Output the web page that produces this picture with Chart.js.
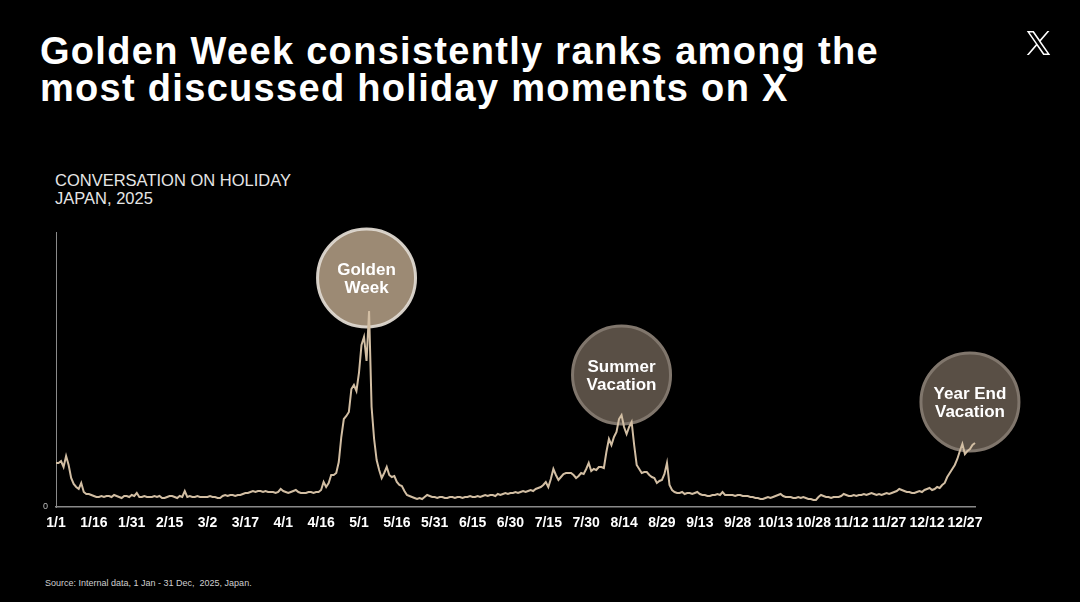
<!DOCTYPE html>
<html>
<head>
<meta charset="utf-8">
<script src="https://cdn.jsdelivr.net/npm/chart.js@4/dist/chart.umd.min.js"></script>
<style>
  html, body { margin:0; padding:0; background:#000; width:1080px; height:602px; overflow:hidden; }
  body { position:relative; font-family:"Liberation Sans", Arial, sans-serif; }
  #title { position:absolute; left:40px; top:33px; font-size:38px; line-height:37px; font-weight:bold; color:#fff; letter-spacing:1.3px; white-space:nowrap; }
  #sub { position:absolute; left:55px; top:172px; font-size:16.5px; line-height:17.5px; color:#e6e6e6; }
  #source { position:absolute; left:45px; top:578px; font-size:9px; line-height:10px; color:#cfcfcf; -webkit-font-smoothing:antialiased; }
  #logo { position:absolute; left:1026px; top:31px; width:25px; height:24px; }
  canvas { position:absolute; left:0; top:0; }
</style>
</head>
<body>
<div id="title">Golden Week consistently ranks among the<br>most discussed holiday moments on X</div>
<div id="sub">CONVERSATION ON HOLIDAY<br>JAPAN, 2025</div>
<div id="source">Source: Internal data, 1 Jan - 31 Dec,&nbsp; 2025, Japan.</div>
<svg id="logo" viewBox="0 0 1200 1227" xmlns="http://www.w3.org/2000/svg"><path fill="#fff" d="M714.163 519.284L1160.89 0H1055.03L667.137 450.887L357.328 0H0L468.492 681.821L0 1226.37H105.866L515.491 750.218L842.672 1226.37H1200L714.137 519.284H714.163ZM569.165 687.828L521.697 619.934L144.011 79.6944H306.615L611.412 515.685L658.88 583.579L1055.08 1150.3H892.476L569.165 687.854V687.828Z"/></svg>
<canvas id="c" width="1080" height="602"></canvas>
<script>
// Days per month of 2025 (for the daily category labels)
const monthLengths = [31, 28, 31, 30, 31, 30, 31, 31, 30, 31, 30, 31];

// Daily conversation volume (relative units), one array per month
const jan = [44,44,46,40,51,42,29,23,20,18,24,15,13,13,12,11,10,10,11,10,11,11,10,12,11,10,9,11,11,10,12];
const feb = [11,14,10,10,11,10,10,10,11,10,11,9,9,10,11,11,10,9,11,10,16,10,11,10,10,11,10,10];
const mar = [10,10,11,10,10,9,9,11,12,11,12,12,11,12,12,13,14,14,15,16,15,16,16,15,16,15,15,15,14,15,18];
const apr = [16,15,14,15,16,17,15,14,14,14,15,15,14,15,15,17,25,20,24,32,32,34,45,70,88,91,95,118,122,116];
const may = [134,162,170,146,196,100,68,47,37,29,34,40,32,30,31,25,22,21,16,12,11,10,9,8,9,8,10,12,11,10,10];
const jun = [9,10,10,9,9,10,10,9,10,10,9,10,10,11,10,10,11,10,11,12,11,12,12,11,13,12,13,14,13,14];
const jul = [14,15,14,15,16,15,16,17,16,18,19,20,22,25,20,28,38,32,27,30,33,34,34,34,32,29,31,34,33,38,44];
const aug = [36,38,37,40,40,39,55,68,62,70,75,88,92,80,73,80,85,62,42,38,34,35,35,32,30,29,24,26,27,33,44];
const sep = [22,17,15,14,14,15,13,14,14,13,14,15,13,12,12,11,11,12,12,13,12,15,12,12,12,12,11,12,12,11];
const oct = [11,11,10,10,9,9,8,8,9,10,9,10,11,12,13,11,10,10,10,9,9,10,9,10,9,8,8,7,7,10,12];
const nov = [11,10,10,9,10,10,10,11,13,12,11,11,12,11,12,12,13,12,13,14,13,12,13,12,13,14,13,14,15,16];
const dec = [18,17,16,15,15,14,14,15,16,15,17,18,19,17,18,20,19,22,24,30,34,38,42,48,56,63,53,56,58,62,64];

// Tick labels shown on the x axis
const tickLabels = ['1/1','1/16','1/31','2/15','3/2','3/17','4/1','4/16','5/1','5/16','5/31','6/15','6/30',
  '7/15','7/30','8/14','8/29','9/13','9/28','10/13','10/28','11/12','11/27','12/12','12/27'];

// Highlighted holiday moments
const momentLabels = [['Golden','Week'], ['Summer','Vacation'], ['Year End','Vacation']];
const momentDays = ['5/4', '8/13', '12/29'];
const momentLevels = [229, 132, 105];

const values = [].concat(jan, feb, mar, apr, may, jun, jul, aug, sep, oct, nov, dec);
const days = [];
monthLengths.forEach((n, m) => { for (let d = 1; d <= n; d++) days.push((m + 1) + '/' + d); });

const circleStyles = [
  { fill: 'rgba(156,138,116,1)', stroke: 'rgba(222,216,208,0.95)' },
  { fill: 'rgba(89,79,69,1)', stroke: 'rgba(128,118,108,1)' },
  { fill: 'rgba(89,79,69,1)', stroke: 'rgba(128,118,108,1)' }
];

const momentsPlugin = {
  id: 'moments',
  beforeDatasetsDraw(chart) {
    const { ctx, scales: { x, y } } = chart;
    ctx.save();
    momentDays.forEach((d, i) => {
      const cx = x.getPixelForValue(days.indexOf(d));
      const cy = y.getPixelForValue(momentLevels[i]);
      ctx.beginPath();
      ctx.arc(cx, cy, 49, 0, Math.PI * 2);
      ctx.fillStyle = circleStyles[i].fill;
      ctx.fill();
      ctx.lineWidth = 3;
      ctx.strokeStyle = circleStyles[i].stroke;
      ctx.stroke();
      ctx.fillStyle = '#fff';
      ctx.font = 'bold 17px "Liberation Sans", Arial, sans-serif';
      ctx.textAlign = 'center';
      ctx.textBaseline = 'middle';
      ctx.fillText(momentLabels[i][0], cx, cy - 8);
      ctx.fillText(momentLabels[i][1], cx, cy + 10);
    });
    ctx.restore();
  }
};

new Chart(document.getElementById('c'), {
  type: 'line',
  data: {
    labels: days,
    datasets: [{
      data: values,
      borderColor: '#d2bea3',
      borderWidth: 2,
      pointRadius: 0,
      tension: 0,
      fill: false
    }]
  },
  options: {
    responsive: false,
    animation: false,
    devicePixelRatio: 1,
    layout: { padding: { left: 36, right: 105, top: 232, bottom: 0 } },
    plugins: { legend: { display: false }, tooltip: { enabled: false } },
    scales: {
      x: {
        type: 'category',
        offset: false,
        grid: { display: false, drawTicks: false },
        border: { display: true, color: '#8a8a8a', width: 1.5 },
        afterFit(s) { s.height = 95; },
        ticks: {
          autoSkip: false, maxRotation: 0, minRotation: 0, padding: 8,
          color: '#ffffff',
          font: { family: '"Liberation Sans", Arial, sans-serif', size: 14, weight: 'bold' },
          callback(v, i) { const l = days[i]; return tickLabels.includes(l) ? l : ''; }
        }
      },
      y: {
        min: 0, max: 275,
        grid: { display: false, drawTicks: false },
        border: { display: true, color: '#8a8a8a', width: 1 },
        afterFit(s) { s.width = 20; },
        afterBuildTicks(s) { s.ticks = [{ value: 0 }]; },
        ticks: {
          padding: 8, color: '#bdbdbd',
          font: { family: '"Liberation Sans", Arial, sans-serif', size: 9 }
        }
      }
    }
  },
  plugins: [momentsPlugin]
});
</script>
</body>
</html>
